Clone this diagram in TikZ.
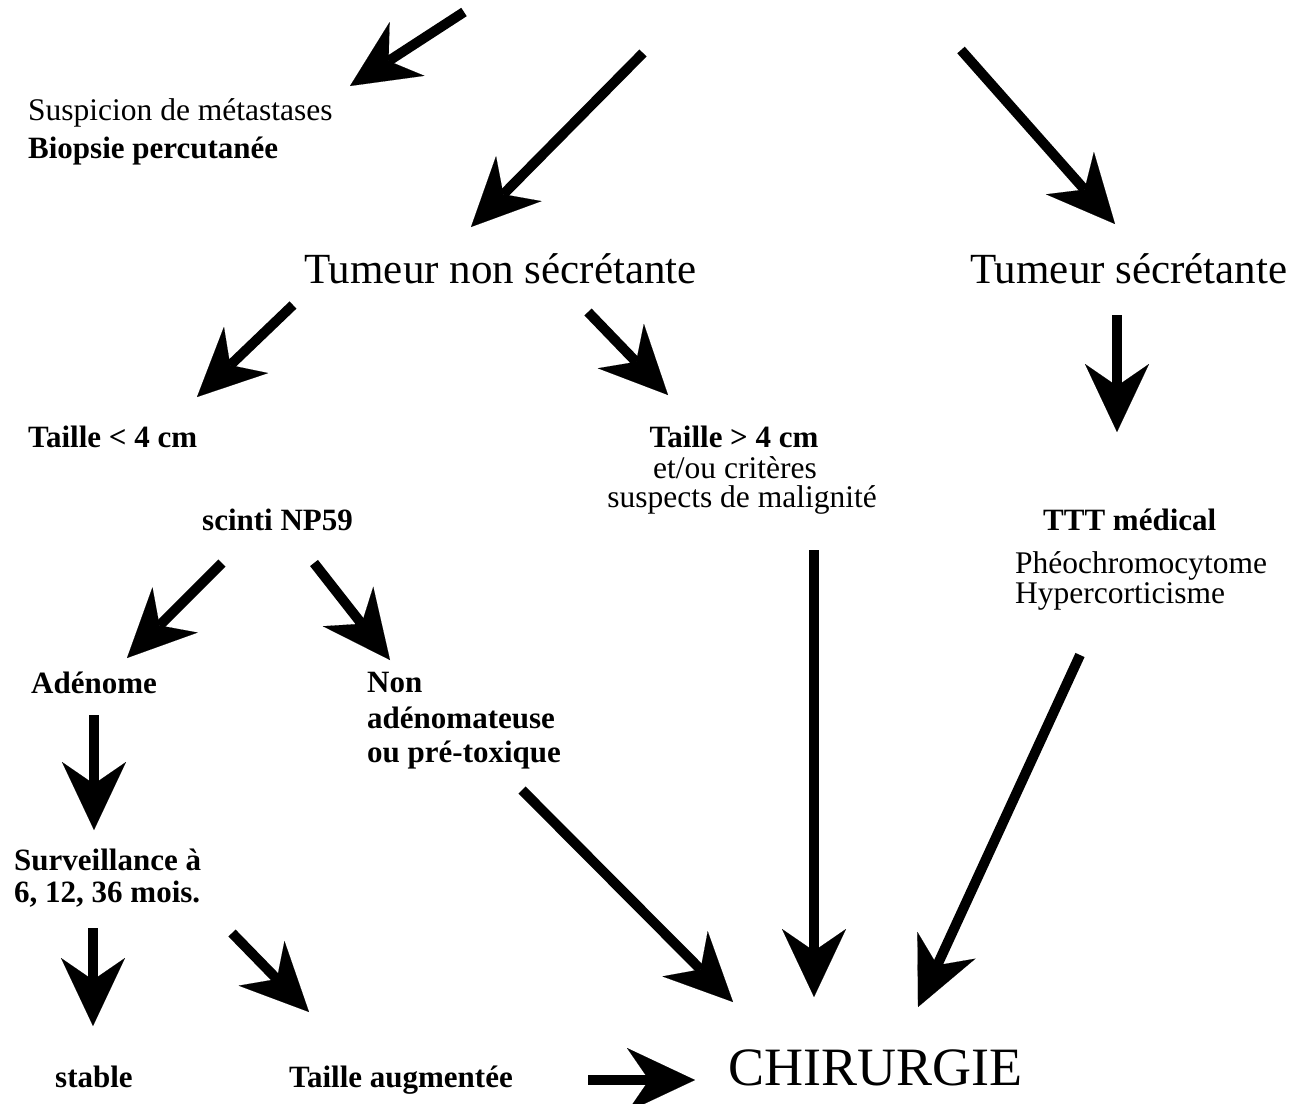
\documentclass[tikz,border=0pt]{standalone}
\usepackage{fontspec}
\setmainfont{Liberation Serif}
\usetikzlibrary{arrows.meta}
\begin{document}
\begin{tikzpicture}[x=1pt,y=-1pt,
  arr/.style={line width=10pt,-{Stealth[length=68pt,width=64pt,inset=22pt,line width=0.1pt]}},
  txt/.style={inner sep=0pt,anchor=base west,font=\fontsize{31.5}{35}\selectfont},
  btxt/.style={inner sep=0pt,anchor=base west,font=\fontsize{31}{35}\selectfont\bfseries},
  big/.style={inner sep=0pt,anchor=base west,font=\fontsize{43}{48}\selectfont},
  huge/.style={inner sep=0pt,anchor=base west,font=\fontsize{54}{58}\selectfont},
]
\useasboundingbox (0,0) rectangle (1295,1103);
% texts
\node[txt] (susp) at (28,120) {Suspicion de métastases};
\node[btxt] (biop) at (28,158) {Biopsie percutanée};
\node[big] (tns) at (304,283) {Tumeur non sécrétante};
\node[big] (ts) at (970,283) {Tumeur sécrétante};
\node[btxt] (t4a) at (28,447) {Taille < 4 cm};
\node[btxt,anchor=base] (t4b) at (734,447) {Taille > 4 cm};
\node[txt,anchor=base] (crit1) at (735,478) {et/ou critères};
\node[txt,anchor=base] (crit2) at (742,507) {suspects de malignité};
\node[btxt] (scinti) at (202,530) {scinti NP59};
\node[btxt] (ttt) at (1043,530) {TTT médical};
\node[txt] (pheo) at (1015,573) {Phéochromocytome};
\node[txt] (hyper) at (1015,603) {Hypercorticisme};
\node[btxt] (aden) at (31,693) {Adénome};
\node[btxt] (non1) at (367,692) {Non};
\node[btxt] (non2) at (367,728) {adénomateuse};
\node[btxt] (non3) at (367,762) {ou pré-toxique};
\node[btxt] (surv1) at (14,870) {Surveillance à};
\node[btxt] (surv2) at (14,902) {6, 12, 36 mois.};
\node[btxt] (stable) at (55,1087) {stable};
\node[btxt] (taug) at (289,1087) {Taille augmentée};
\node[huge] (chir) at (728,1085) {CHIRURGIE};
% arrow end points
\coordinate (a1s) at (464,12);   \coordinate (a1e) at (350,86);
\coordinate (a2s) at (643,53);   \coordinate (a2e) at (471,227);
\coordinate (a3s) at (961,50);   \coordinate (a3e) at (1115,224);
\coordinate (a4s) at (293,305);  \coordinate (a4e) at (197,397);
\coordinate (a5s) at (588,312);  \coordinate (a5e) at (668,395);
\coordinate (a6s) at (1117,315); \coordinate (a6e) at (1117,432);
\coordinate (a7s) at (222,563);  \coordinate (a7e) at (127,658);
\coordinate (a8s) at (314,563);  \coordinate (a8e) at (390,660);
\coordinate (a9s) at (94,715);   \coordinate (a9e) at (94,830);
\coordinate (a10s) at (522,790); \coordinate (a10e) at (733,1002);
\coordinate (a11s) at (814,550); \coordinate (a11e) at (814,997);
\coordinate (a12s) at (1080,655);\coordinate (a12e) at (918,1007);
\coordinate (a13s) at (232,933); \coordinate (a13e) at (309,1012);
\coordinate (a14s) at (93,928);  \coordinate (a14e) at (93,1026);
\coordinate (a15s) at (588,1080);\coordinate (a15e) at (695,1080);
\foreach \i in {1,...,15}{\draw[arr] (a\i s) -- (a\i e);}
\end{tikzpicture}
\end{document}
